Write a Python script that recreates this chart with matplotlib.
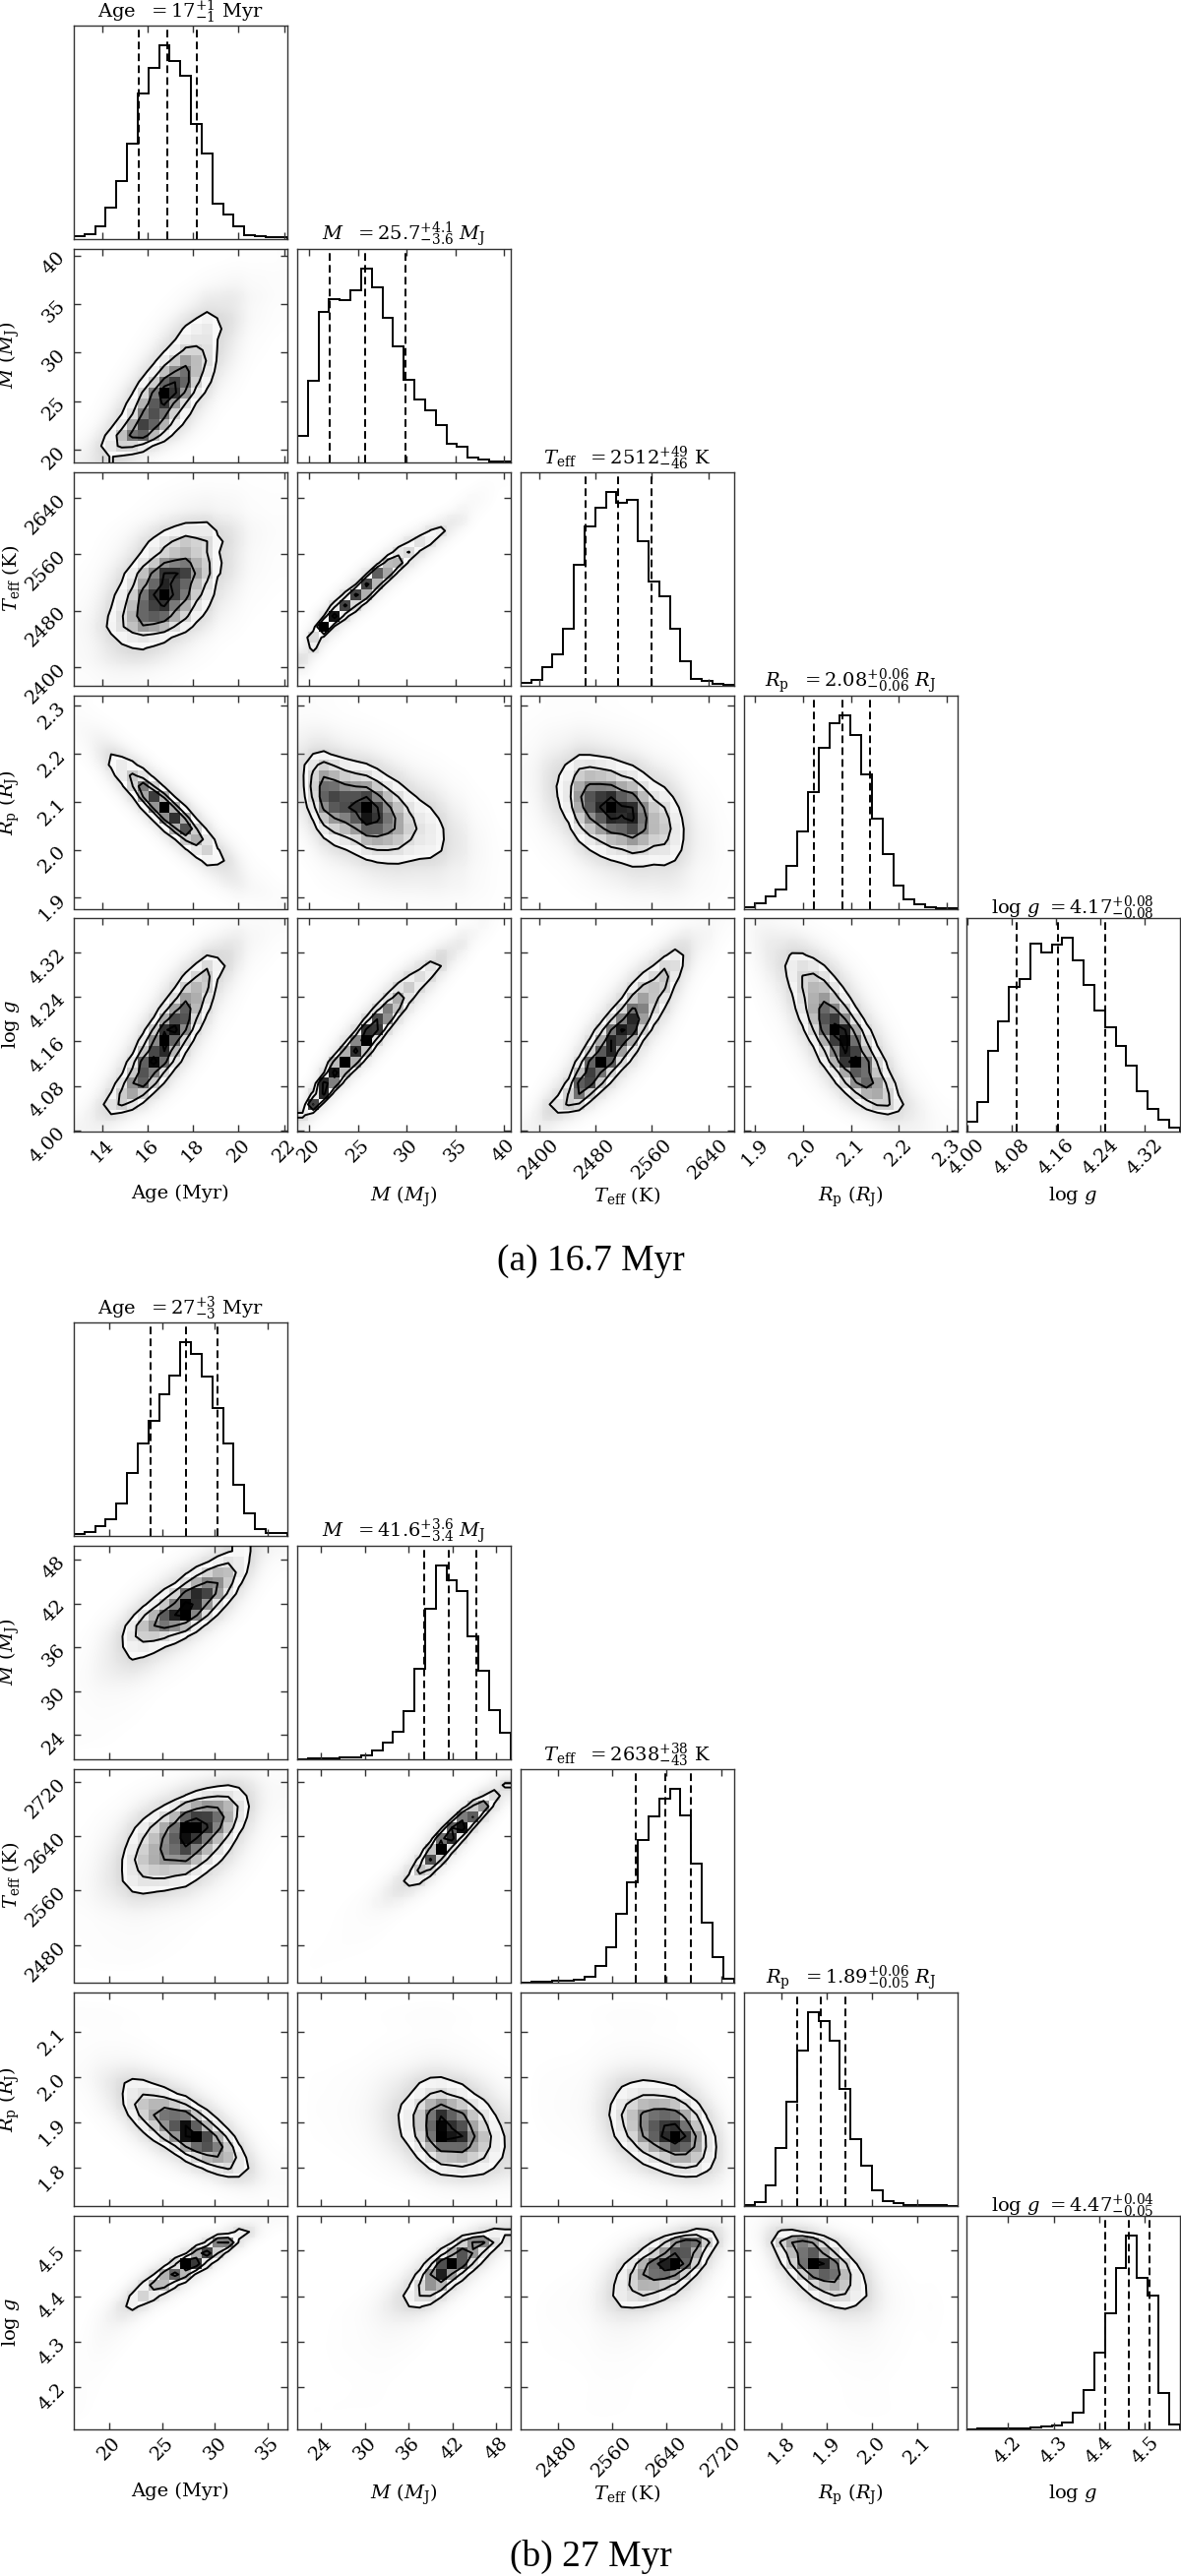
import math
import numpy as np
import matplotlib
matplotlib.use("Agg")
import matplotlib.pyplot as plt
from matplotlib.colors import LinearSegmentedColormap

# ================= DATA =================
# parameter order: Age, M, Teff, Rp, log g
labels = ["Age (Myr)", r"$M$ ($M_{\rm J}$)", r"$T_{\rm eff}$ (K)",
          r"$R_{\rm p}$ ($R_{\rm J}$)", r"$\log\,g$"]

# ---- panel (a) 16.7 Myr ----
titles_a = [r"Age  $= 17^{+1}_{-1}$ Myr",
            r"$M$  $= 25.7^{+4.1}_{-3.6}$ $M_{\rm J}$",
            r"$T_{\rm eff}$  $= 2512^{+49}_{-46}$ K",
            r"$R_{\rm p}$  $= 2.08^{+0.06}_{-0.06}$ $R_{\rm J}$",
            r"$\log\,g$ $= 4.17^{+0.08}_{-0.08}$"]
hist_a_age = [7, 14, 38, 95, 175, 290, 442, 520, 590, 540, 495, 350, 260, 107, 73, 37, 9, 7, 3, 3]
hist_a_mass = [78, 245, 455, 493, 490, 519, 587, 529, 437, 350, 250, 188, 157, 112, 55, 45, 13, 8, 1, 1]
hist_a_teff = [5, 12, 42, 70, 128, 273, 362, 403, 440, 415, 421, 328, 235, 203, 128, 55, 15, 10, 3, 1]
hist_a_rp = [3, 13, 28, 43, 98, 175, 265, 365, 421, 440, 395, 305, 205, 123, 53, 21, 10, 3, 1, 1]
hist_a_logg = [28, 88, 243, 333, 440, 463, 570, 543, 568, 590, 520, 446, 366, 316, 260, 200, 122, 68, 33, 11]
quant_a_age = [15.63, 16.87, 18.17]
quant_a_mass = [22.14, 25.72, 29.9]
quant_a_teff = [2465.7, 2511.9, 2560.0]
quant_a_rp = [2.022, 2.083, 2.139]
quant_a_logg = [4.090, 4.164, 4.249]
range_a_age = [12.76, 22.12]
range_a_mass = [18.76, 40.66]
range_a_teff = [2374.0, 2676.0]
range_a_rp = [1.877, 2.321]
range_a_logg = [3.999, 4.382]
ticks_a_age = [14, 16, 18, 20, 22]
ticks_a_mass = [20, 25, 30, 35, 40]
ticks_a_teff = [2400, 2480, 2560, 2640]
ticks_a_rp = [1.9, 2.0, 2.1, 2.2, 2.3]
ticks_a_logg = [4.00, 4.08, 4.16, 4.24, 4.32]
ticklabels_a_age = ["14", "16", "18", "20", "22"]
ticklabels_a_mass = ["20", "25", "30", "35", "40"]
ticklabels_a_teff = ["2400", "2480", "2560", "2640"]
ticklabels_a_rp = ["1.9", "2.0", "2.1", "2.2", "2.3"]
ticklabels_a_logg = ["4.00", "4.08", "4.16", "4.24", "4.32"]
# correlation of each row parameter with the earlier columns
corr_a_mass = [0.80]
corr_a_teff = [0.50, 0.98]
corr_a_rp = [-0.93, -0.50, -0.40]
corr_a_logg = [0.88, 0.97, 0.90, -0.80]

# ---- panel (b) 27 Myr ----
titles_b = [r"Age  $= 27^{+3}_{-3}$ Myr",
            r"$M$  $= 41.6^{+3.6}_{-3.4}$ $M_{\rm J}$",
            r"$T_{\rm eff}$  $= 2638^{+38}_{-43}$ K",
            r"$R_{\rm p}$  $= 1.89^{+0.06}_{-0.05}$ $R_{\rm J}$",
            r"$\log\,g$ $= 4.47^{+0.04}_{-0.05}$"]
hist_b_age = [5, 10, 27, 50, 97, 190, 280, 350, 430, 487, 590, 552, 483, 388, 280, 153, 68, 20, 6, 6]
hist_b_mass = [0, 1, 1, 2, 3, 5, 10, 24, 48, 83, 145, 272, 455, 588, 542, 508, 373, 266, 147, 78]
hist_b_teff = [0, 1, 2, 3, 4, 6, 15, 49, 107, 207, 302, 430, 502, 555, 587, 507, 360, 180, 77, 10]
hist_b_rp = [2, 9, 61, 176, 316, 471, 588, 561, 499, 353, 203, 121, 46, 13, 6, 2, 1, 2, 1, 0]
hist_b_logg = [0, 1, 1, 1, 1, 2, 3, 6, 10, 18, 48, 118, 231, 350, 488, 588, 460, 405, 110, 13]
quant_b_age = [23.93, 27.31, 30.22]
quant_b_mass = [38.15, 41.57, 45.25]
quant_b_teff = [2594.4, 2638.3, 2675.0]
quant_b_rp = [1.834, 1.886, 1.942]
quant_b_logg = [4.413, 4.465, 4.509]
range_b_age = [16.68, 36.8]
range_b_mass = [20.76, 49.93]
range_b_teff = [2425.4, 2738.3]
range_b_rp = [1.717, 2.188]
range_b_logg = [4.1095, 4.5754]
ticks_b_age = [20, 25, 30, 35]
ticks_b_mass = [24, 30, 36, 42, 48]
ticks_b_teff = [2480, 2560, 2640, 2720]
ticks_b_rp = [1.8, 1.9, 2.0, 2.1]
ticks_b_logg = [4.2, 4.3, 4.4, 4.5]
ticklabels_b_age = ["20", "25", "30", "35"]
ticklabels_b_mass = ["24", "30", "36", "42", "48"]
ticklabels_b_teff = ["2480", "2560", "2640", "2720"]
ticklabels_b_rp = ["1.8", "1.9", "2.0", "2.1"]
ticklabels_b_logg = ["4.2", "4.3", "4.4", "4.5"]
corr_b_mass = [0.80]
corr_b_teff = [0.55, 0.95]
corr_b_rp = [-0.75, -0.25, -0.35]
corr_b_logg = [0.95, 0.85, 0.65, -0.60]

captions = ["(a) 16.7 Myr", "(b) 27 Myr"]

# ================= STYLE / LAYOUT =================
plt.rcParams["font.family"] = ["DejaVu Serif"]
plt.rcParams["mathtext.fontset"] = "dejavuserif"

W, Hpx = 1200, 2618
fig = plt.figure(figsize=(W / 100, Hpx / 100), dpi=100)

col_left = [75, 302, 529, 756, 982]
row_top_a = [26, 253, 480, 707, 933]
row_top_b = [1344, 1571, 1798, 2025, 2252]
PANEL = 216.5
caption_y = [1282, 2598]

LEVELS = 1.0 - np.exp(-0.5 * np.arange(0.5, 2.1, 0.5) ** 2)
DENSITY_CMAP = LinearSegmentedColormap.from_list("density", [(0, 0, 0, 1), (1, 1, 1, 0)])
SPINE = "0.2"
FS = 14

Z_GRID = np.linspace(-8, 8, 4001)
CDF_GRID = 0.5 * (1 + np.vectorize(math.erf)(Z_GRID / math.sqrt(2)))


def ppf(u):
    return np.interp(u, CDF_GRID, Z_GRID)


def joint_hist(hx, hy, rho):
    hx = np.asarray(hx, float)
    hy = np.asarray(hy, float)
    ux = np.clip((np.cumsum(hx) - 0.5 * hx) / hx.sum(), 1e-6, 1 - 1e-6)
    uy = np.clip((np.cumsum(hy) - 0.5 * hy) / hy.sum(), 1e-6, 1 - 1e-6)
    zx, zy = ppf(ux), ppf(uy)
    ZX, ZY = np.meshgrid(zx, zy, indexing="ij")
    r2 = 1 - rho ** 2
    c = np.exp(-(rho ** 2 * (ZX ** 2 + ZY ** 2) - 2 * rho * ZX * ZY) / (2 * r2)) / np.sqrt(r2)
    H = np.outer(hx, hy) * c
    return H / H.sum()


def make_ax(top, left):
    ax = fig.add_axes([left / W, 1 - (top + PANEL) / Hpx, PANEL / W, PANEL / Hpx])
    for s in ax.spines.values():
        s.set_color(SPINE)
        s.set_linewidth(1.0)
    ax.tick_params(direction="in", top=True, right=True, length=5, width=1.0,
                   color=SPINE, labelsize=FS)
    return ax


def draw_hist(ax, h, xr, q):
    edges = np.linspace(xr[0], xr[1], len(h) + 1)
    ax.stairs(h, edges, color="k", lw=1.4)
    for v in q:
        ax.axvline(v, color="k", ls=(0, (4, 2.2)), lw=1.4)
    ax.set_xlim(xr)
    ax.set_ylim(0, 1.1 * max(h))
    ax.set_yticks([])
    ax.tick_params(left=False, right=False)


def draw_2d(ax, hx, hy, rho, xr, yr):
    H = joint_hist(hx, hy, rho)
    nx, ny = H.shape
    xe = np.linspace(xr[0], xr[1], nx + 1)
    ye = np.linspace(yr[0], yr[1], ny + 1)
    xc = 0.5 * (xe[1:] + xe[:-1])
    yc = 0.5 * (ye[1:] + ye[:-1])
    Hflat = np.sort(H.ravel())[::-1]
    sm = np.cumsum(Hflat)
    sm /= sm[-1]
    V = []
    for v0 in LEVELS:
        sel = Hflat[sm <= v0]
        V.append(sel[-1] if len(sel) else Hflat[0])
    V = np.unique(V)
    # faint haze standing in for the scattered samples
    a = np.clip(H / V.min(), 0, 1) ** 0.8 * 0.30
    a[H <= 0] = 0
    rgba = np.zeros((ny, nx, 4))
    rgba[..., :3] = 0.5
    rgba[..., 3] = a.T
    ax.imshow(rgba, extent=[xr[0], xr[1], yr[0], yr[1]], origin="lower",
              aspect="auto", interpolation="bicubic", zorder=0)
    H2 = np.pad(np.pad(H, 1, mode="edge"), 1, mode="constant", constant_values=H.min())
    dx, dy = xc[1] - xc[0], yc[1] - yc[0]
    X2 = np.concatenate([xc[0] - np.array([2, 1]) * dx, xc, xc[-1] + np.array([1, 2]) * dx])
    Y2 = np.concatenate([yc[0] - np.array([2, 1]) * dy, yc, yc[-1] + np.array([1, 2]) * dy])
    ax.contourf(X2, Y2, H2.T, [V.min(), H.max()], colors="white", antialiased=False, zorder=1)
    ax.pcolormesh(xe, ye, H.max() - H.T, cmap=DENSITY_CMAP, shading="flat", zorder=2)
    ax.contour(X2, Y2, H2.T, V, colors="k", linewidths=1.4, zorder=3)
    ax.set_xlim(xr)
    ax.set_ylim(yr)


sets = [
    dict(hists=[hist_a_age, hist_a_mass, hist_a_teff, hist_a_rp, hist_a_logg],
         quants=[quant_a_age, quant_a_mass, quant_a_teff, quant_a_rp, quant_a_logg],
         ranges=[range_a_age, range_a_mass, range_a_teff, range_a_rp, range_a_logg],
         ticks=[ticks_a_age, ticks_a_mass, ticks_a_teff, ticks_a_rp, ticks_a_logg],
         tlabels=[ticklabels_a_age, ticklabels_a_mass, ticklabels_a_teff, ticklabels_a_rp, ticklabels_a_logg],
         corr=[[], corr_a_mass, corr_a_teff, corr_a_rp, corr_a_logg],
         titles=titles_a, tops=row_top_a),
    dict(hists=[hist_b_age, hist_b_mass, hist_b_teff, hist_b_rp, hist_b_logg],
         quants=[quant_b_age, quant_b_mass, quant_b_teff, quant_b_rp, quant_b_logg],
         ranges=[range_b_age, range_b_mass, range_b_teff, range_b_rp, range_b_logg],
         ticks=[ticks_b_age, ticks_b_mass, ticks_b_teff, ticks_b_rp, ticks_b_logg],
         tlabels=[ticklabels_b_age, ticklabels_b_mass, ticklabels_b_teff, ticklabels_b_rp, ticklabels_b_logg],
         corr=[[], corr_b_mass, corr_b_teff, corr_b_rp, corr_b_logg],
         titles=titles_b, tops=row_top_b),
]

n = 5
for k, S in enumerate(sets):
    for i in range(n):
        for j in range(i + 1):
            ax = make_ax(S["tops"][i], col_left[j])
            if i == j:
                draw_hist(ax, S["hists"][i], S["ranges"][i], S["quants"][i])
                ax.set_title(S["titles"][i], fontsize=FS, pad=3)
            else:
                draw_2d(ax, S["hists"][j], S["hists"][i], S["corr"][i][j],
                        S["ranges"][j], S["ranges"][i])
                ax.set_yticks(S["ticks"][i])
                if j == 0:
                    ax.set_yticklabels(S["tlabels"][i], rotation=45, fontsize=FS)
                    ax.set_ylabel(labels[i], fontsize=FS)
                    ax.yaxis.set_label_coords(-0.245, 0.5)
                else:
                    ax.set_yticklabels([])
            ax.set_xticks(S["ticks"][j])
            if i == n - 1:
                ax.set_xticklabels(S["tlabels"][j], rotation=45, fontsize=FS)
                ax.set_xlabel(labels[j], fontsize=FS)
                ax.xaxis.set_label_coords(0.5, -0.25)
            else:
                ax.set_xticklabels([])
    fig.text(0.5, 1 - caption_y[k] / Hpx, captions[k], ha="center", va="center",
             fontsize=27, family=["Liberation Serif", "DejaVu Serif"])

fig.savefig("out.png", dpi=100)
